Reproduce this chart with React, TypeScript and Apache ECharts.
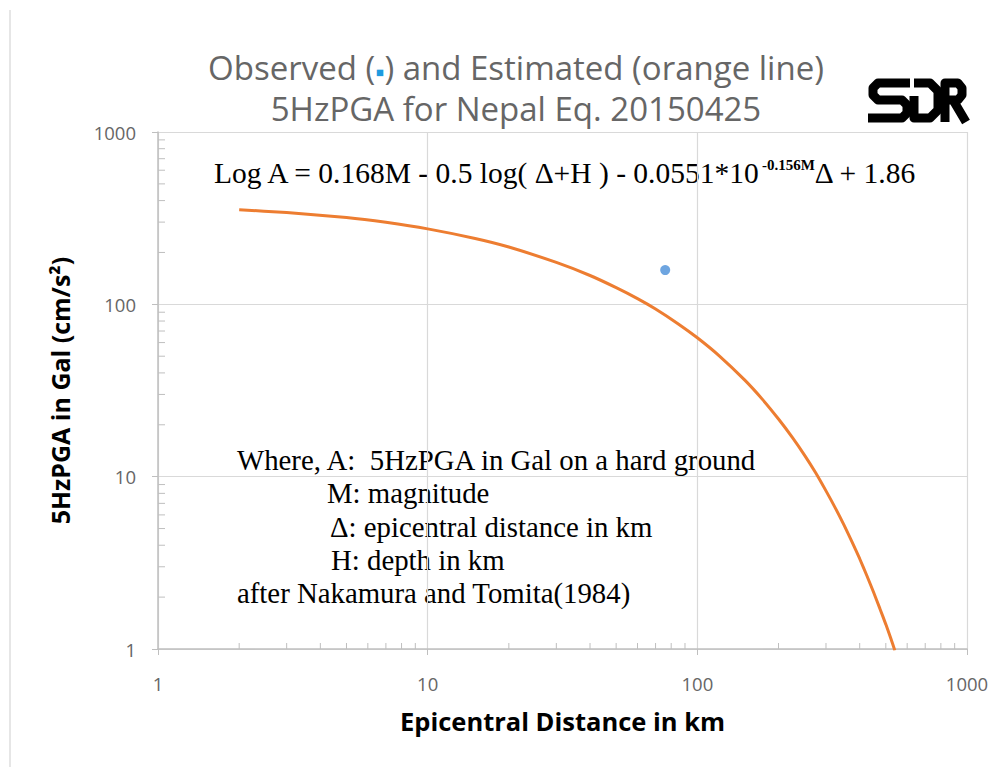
import React, { useEffect, useRef } from "react";
import * as echarts from "echarts";

const distKm = [2, 3, 5, 7, 10, 15, 20, 30, 40, 50, 60, 70, 85, 100, 120, 150, 175, 200, 225, 250, 275, 300, 325, 350, 375, 400, 425, 450, 475, 500, 520, 540];
const estPGA = [354, 341, 319, 299, 274, 241, 215, 175, 147, 125, 108, 94, 77, 64, 50.6, 36.3, 27.9, 21.6, 16.9, 13.3, 10.5, 8.27, 6.57, 5.23, 4.17, 3.34, 2.67, 2.14, 1.72, 1.39, 1.17, 0.98];
const observed = [[76, 158]];
const xMinorTicks = [2, 3, 4, 5, 6, 7, 8, 9, 20, 30, 40, 50, 60, 70, 80, 90, 200, 300, 400, 500, 600, 700, 800, 900];
const yMinorTicks = [2, 3, 4, 5, 6, 7, 8, 9, 20, 30, 40, 50, 60, 70, 80, 90, 200, 300, 400, 500, 600, 700, 800, 900];

export default function App() {
  const ref = useRef<HTMLDivElement>(null);
  useEffect(() => {
    document.body.style.margin = "0";
    const chart = echarts.init(ref.current!, null, { renderer: "svg" });
    const axisColor = "#bfbfbf";
    const labelFont = "'Open Sans', sans-serif";
    const serif = "'Liberation Serif', 'DejaVu Serif', serif";
    const logoStyle = { stroke: "#000", fill: "none", lineWidth: 9, lineJoin: "round", lineCap: "butt" };
    const annot = (text: string, x: number, y: number) => ({
      type: "text",
      x,
      y,
      style: { text, verticalAlign: "middle", fontFamily: serif, fontSize: 28.8, fill: "#000" },
    });
    chart.setOption({
      animation: false,
      backgroundColor: "#fff",
      grid: { left: 158, right: 41, top: 132, bottom: 118 },
      xAxis: {
        type: "log",
        logBase: 10,
        min: 1,
        max: 1000,
        name: "Epicentral Distance in km",
        nameLocation: "middle",
        nameGap: 59,
        nameTextStyle: { fontFamily: labelFont, fontWeight: "bold", fontSize: 25.5, color: "#000" },
        axisLine: { lineStyle: { color: axisColor, width: 1.5 } },
        axisTick: { show: true, length: 6, lineStyle: { color: axisColor } },
        axisLabel: { color: "#666", fontFamily: labelFont, fontSize: 18.5, margin: 25, formatter: (v: number) => String(v) },
        splitLine: { show: true, lineStyle: { color: "#d9d9d9", width: 1.2 } },
      },
      yAxis: {
        type: "log",
        logBase: 10,
        min: 1,
        max: 1000,
        name: "5HzPGA in Gal (cm/s²)",
        nameLocation: "middle",
        nameRotate: 90,
        nameGap: 86,
        nameTextStyle: { fontFamily: labelFont, fontWeight: "bold", fontSize: 25, color: "#000" },
        axisLine: { show: true, lineStyle: { color: axisColor, width: 1.5 } },
        axisTick: { show: true, length: 6, lineStyle: { color: axisColor } },
        axisLabel: { color: "#666", fontFamily: labelFont, fontSize: 18.5, margin: 22, formatter: (v: number) => String(v) },
        splitLine: { show: true, lineStyle: { color: "#d9d9d9", width: 1.2 } },
      },
      series: [
        {
          type: "custom",
          silent: true,
          clip: false,
          data: xMinorTicks.map((v) => [v, 1]),
          renderItem: (params: any, api: any) => {
            const p = api.coord([api.value(0), api.value(1)]);
            return { type: "line", shape: { x1: p[0], y1: p[1], x2: p[0], y2: p[1] - 6 }, style: { stroke: axisColor, lineWidth: 1 } };
          },
        },
        {
          type: "custom",
          silent: true,
          clip: false,
          data: yMinorTicks.map((v) => [1, v]),
          renderItem: (params: any, api: any) => {
            const p = api.coord([api.value(0), api.value(1)]);
            return { type: "line", shape: { x1: p[0], y1: p[1], x2: p[0] + 7, y2: p[1] }, style: { stroke: axisColor, lineWidth: 1 } };
          },
        },
        {
          type: "line",
          data: distKm.map((d, i) => [d, estPGA[i]]),
          showSymbol: false,
          smooth: 0.2,
          lineStyle: { color: "#ed7d31", width: 3 },
          clip: true,
        },
        {
          type: "scatter",
          data: observed,
          symbol: "circle",
          symbolSize: 10,
          itemStyle: { color: "#4a8fd8" },
        },
      ],
      graphic: [
        { type: "line", shape: { x1: 10, y1: 10, x2: 10, y2: 767 }, style: { stroke: "#e6e6e6", lineWidth: 2 } },
        {
          type: "text",
          x: 516,
          y: 67,
          style: {
            text: "Observed ({b|▪}) and Estimated (orange line)",
            align: "center",
            verticalAlign: "middle",
            fontFamily: labelFont,
            fontSize: 33,
            fill: "#666",
            rich: { b: { fill: "#1e9be0", fontSize: 26, fontFamily: labelFont, padding: [7, 0, 0, 0] } },
          },
        },
        {
          type: "text",
          x: 516,
          y: 108,
          style: { text: "5HzPGA for Nepal Eq. 20150425", align: "center", verticalAlign: "middle", fontFamily: labelFont, fontSize: 33, fill: "#666" },
        },
        {
          type: "text",
          x: 214,
          y: 173,
          style: {
            text: "Log A = 0.168M - 0.5 log( Δ+H ) - 0.0551*10{s|-0.156M}Δ + 1.86",
            align: "left",
            verticalAlign: "middle",
            fontFamily: serif,
            fontSize: 29.5,
            fill: "#000",
            rich: { s: { fontFamily: serif, fontSize: 15, fontWeight: "bold", fill: "#000", padding: [0, 0, 16, 0] } },
          },
        },
        annot("Where, A:  5HzPGA in Gal on a hard ground", 237, 460),
        annot("M: magnitude", 327, 493),
        annot("Δ: epicentral distance in km", 330, 527),
        annot("H: depth in km", 331, 560),
        annot("after Nakamura and Tomita(1984)", 237, 593),
        // SDR logo
        { type: "polyline", shape: { points: [[910, 83], [878, 83], [873, 88], [873, 95], [878, 100], [902, 100], [907, 105], [907, 113], [902, 118], [868, 118]] }, style: logoStyle },
        { type: "polyline", shape: { points: [[914, 83], [930, 83], [938, 91], [938, 110], [930, 118], [914, 118], [914, 96]] }, style: logoStyle },
        { type: "polyline", shape: { points: [[945, 122], [945, 83], [958, 83], [962, 88], [962, 95], [958, 100], [948, 100], [953, 100], [966, 122]] }, style: logoStyle },
      ],
    });
    return () => chart.dispose();
  }, []);
  return <div ref={ref} style={{ width: 1008, height: 767 }} />;
}
